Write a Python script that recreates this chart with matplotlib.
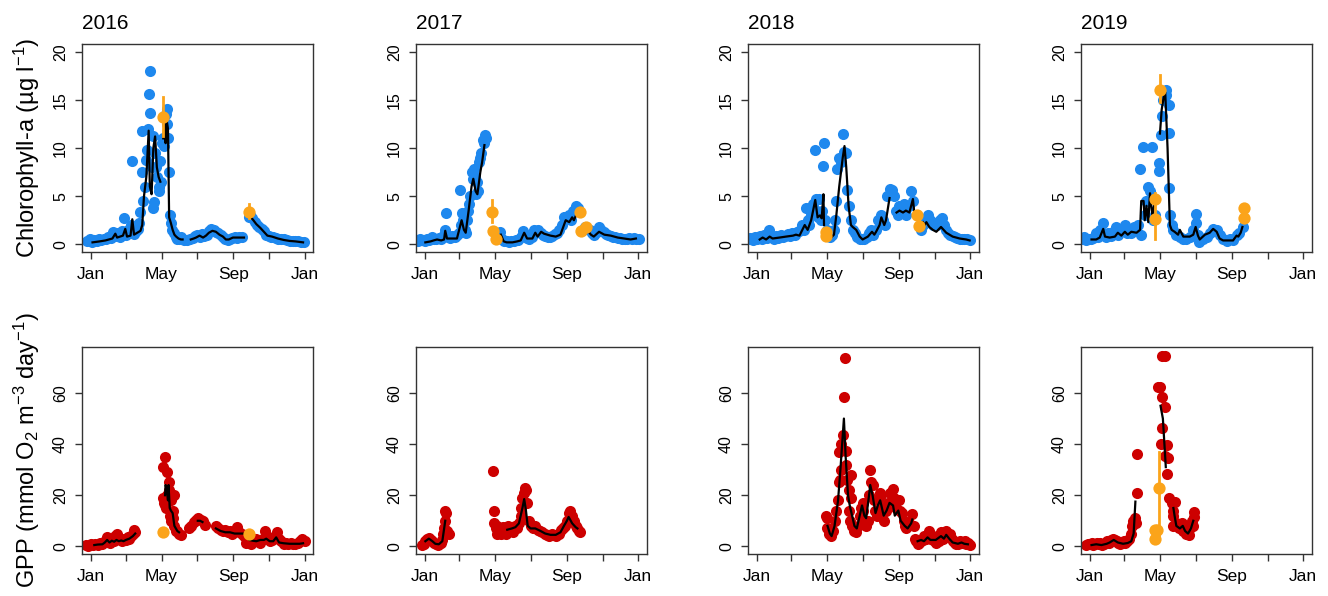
import numpy as np
import pandas as pd
import matplotlib
matplotlib.use("Agg")
import matplotlib.pyplot as plt

plt.rcParams["font.family"] = ["Liberation Sans", "DejaVu Sans"]
plt.rcParams["mathtext.fontset"] = "custom"
plt.rcParams["mathtext.rm"] = "Liberation Sans"
plt.rcParams["mathtext.it"] = "Liberation Sans:italic"
plt.rcParams["mathtext.default"] = "regular"

years = [2016, 2017, 2018, 2019]

# ---- chlorophyll-a: sensor dots (day of year, ug/l) ----
chl_2016 = [(-6,0.3),(-2,0.5),(2,0.2),(6,0.4),(10,0.3),(14,0.5),(18,0.4),(22,0.6),(26,0.5),(30,0.8),
            (34,0.7),(38,1.3),(42,0.9),(46,1.2),(50,0.8),(54,1.4),(57,2.7),(60,1.0),(63,1.5),(66,1.2),
            (69,2.0),(71,8.7),(74,1.1),(77,1.4),(80,1.6),(83,2.2),(85,3.4),(87,7.5),(88,11.8),(90,4.5),
            (92,6.0),(94,8.8),(96,9.8),(98,12.0),(100,15.6),(101,18.0),(102,13.6),(104,8.0),(106,3.8),
            (107,11.2),(108,4.4),(110,9.5),(112,8.0),(114,7.0),(116,6.0),(117,5.5),(119,8.7),(120,6.5),
            (122,10.5),(124,11.0),(126,10.2),(128,13.5),(130,14.1),(131,12.5),(132,11.0),(134,7.5),
            (135,3.0),(137,2.2),(139,1.5),(142,1.2),(145,0.8),(148,0.6),(151,0.5),(155,0.8),(160,0.4),
            (165,0.4),(170,0.5),(174,0.7),(178,0.9),(182,1.0),(186,0.8),(190,1.1),(194,0.9),(198,1.0),
            (202,1.4),(206,1.6),(210,1.5),(214,1.3),(218,1.2),(222,1.0),(226,0.8),(230,0.6),(234,0.4),
            (238,0.6),(242,0.7),(246,0.8),(250,0.7),(254,0.8),(258,0.8),(270,2.8),(273,3.0),(276,2.7),
            (280,2.3),(284,2.0),(288,1.8),(292,1.6),(296,1.4),(300,1.0),(304,0.9),(308,0.8),(312,0.8),
            (316,0.7),(320,0.6),(325,0.5),(330,0.5),(335,0.4),(340,0.3),(345,0.3),(350,0.3),(355,0.3),
            (360,0.2),(365,0.2)]
chl_2017 = [(-12,0.3),(-8,0.5),(-4,0.4),(0,0.3),(4,0.5),(8,0.4),(12,0.8),(16,0.6),(20,0.5),(24,0.7),
            (28,0.6),(32,0.9),(35,1.5),(36,3.3),(39,0.8),(43,0.7),(47,0.9),(51,0.8),(55,1.0),(58,1.2),
            (61,5.6),(62,2.0),(64,3.3),(66,2.5),(68,1.5),(70,1.2),(72,2.5),(74,3.5),(76,4.2),(78,5.0),
            (80,7.5),(82,6.8),(84,7.8),(86,7.0),(88,5.2),(90,6.5),(91,5.5),(93,8.5),(95,9.0),(97,9.5),
            (99,10.8),(101,10.5),(103,11.3),(105,11.0),(127,1.0),(129,1.3),(132,0.5),(136,0.3),
            (140,0.3),(144,0.2),(148,0.3),(152,0.3),(156,0.4),(160,0.4),(164,0.8),(168,1.4),(171,1.0),
            (175,0.7),(179,0.6),(183,0.8),(187,1.5),(190,1.3),(194,1.5),(198,1.2),(202,1.0),(206,0.9),
            (210,0.8),(214,0.8),(218,0.9),(222,1.1),(226,1.2),(230,1.5),(234,2.0),(238,2.8),(242,2.8),
            (246,3.0),(250,2.5),(254,3.5),(258,4.0),(262,3.8),(270,1.5),(274,1.8),(278,1.6),(282,1.5),
            (286,1.2),(290,1.0),(294,1.3),(298,1.8),(302,1.5),(306,1.3),(310,1.1),(314,1.0),(318,0.9),
            (322,0.8),(326,0.8),(330,0.7),(334,0.7),(338,0.6),(342,0.6),(346,0.6),(350,0.7),(354,0.6),
            (358,0.7),(362,0.6),(366,0.5)]
chl_2018 = [(-15,0.5),(-11,0.7),(-7,0.4),(-3,0.8),(1,0.6),(5,0.9),(9,0.5),(13,1.0),(17,0.7),(21,1.5),
            (25,0.8),(29,0.6),(33,0.9),(37,0.7),(41,1.0),(45,0.8),(49,0.9),(53,1.1),(57,0.9),(61,1.2),
            (65,1.0),(69,1.3),(73,1.4),(77,2.0),(80,1.5),(84,3.8),(87,2.5),(90,2.0),(93,3.0),(96,4.2),
            (99,9.8),(101,4.7),(103,3.5),(105,2.8),(107,4.7),(109,2.5),(111,3.5),(113,8.1),(115,10.5),
            (117,2.5),(120,1.5),(123,1.0),(126,0.8),(129,1.0),(132,1.5),(134,2.5),(136,4.5),(138,7.8),
            (141,9.0),(144,8.5),(147,11.5),(150,9.6),(152,9.5),(155,5.6),(158,4.0),(161,2.5),(164,1.5),
            (168,1.2),(172,0.8),(176,0.6),(180,0.5),(184,0.6),(188,0.8),(192,1.2),(196,1.5),(199,1.0),
            (204,1.5),(208,2.5),(212,3.0),(216,2.5),(220,2.0),(223,5.0),(227,5.7),(231,5.6),(235,5.0),
            (238,3.5),(241,3.0),(244,4.0),(248,3.5),(252,4.2),(256,3.0),(260,4.0),(264,5.5),(267,4.5),
            (281,1.5),(285,2.0),(289,2.5),(293,3.0),(297,2.5),(301,2.0),(305,2.2),(309,2.0),(313,2.5),
            (317,2.7),(320,2.0),(323,1.5),(327,1.2),(331,1.0),(335,0.9),(339,0.8),(343,0.7),(347,0.6),
            (351,0.6),(355,0.5),(360,0.5),(364,0.4)]
chl_2019 = [(-14,0.5),(-10,0.8),(-6,0.4),(-2,0.6),(2,0.5),(6,0.7),(10,1.2),(14,0.8),(18,1.5),(22,2.2),
            (25,1.0),(28,0.8),(32,1.2),(36,0.9),(40,1.3),(44,1.8),(48,1.0),(52,1.4),(56,1.6),(60,2.0),
            (63,1.2),(67,1.5),(71,1.2),(75,1.8),(79,1.5),(83,2.0),(86,7.8),(88,1.0),(91,10.1),(94,3.0),
            (97,4.5),(100,6.0),(103,5.5),(107,10.1),(108,2.5),(111,3.0),(118,8.4),(118,7.6),(121,11.3),
            (123,13.3),(125,15.0),(130,16.0),(131,15.5),(135,14.5),(135,11.6),(136,5.8),(137,3.0),
            (140,2.0),(143,1.5),(148,1.0),(154,0.8),(160,0.5),(165,0.5),(171,0.8),(177,1.5),(181,2.2),
            (182,3.1),(185,1.0),(187,0.2),(194,0.5),(200,0.8),(205,1.2),(211,1.6),(217,1.5),(222,1.0),
            (228,0.5),(234,0.3),(239,0.5),(245,0.4),(251,1.0),(256,1.2),(262,1.8)]

# ---- chlorophyll-a: smoothed series, None = break ----
chl_fit_2016 = [(3,0.2),(15,0.3),(25,0.4),(37,0.6),(42,1.1),(45,0.7),(55,0.9),(59,1.6),(62,0.8),(68,0.9),
                (71,2.6),(74,1.0),(85,1.4),(88,2.0),(91,5.0),(95,7.0),(99,11.8),(101,6.0),(104,5.2),
                (107,10.0),(110,11.2),(113,8.0),(116,7.0),(119,6.5),None,(124,11.0),(126,12.5),(128,10.5),
                (130,12.8),(132,12.0),(134,2.8),(137,2.2),(140,1.5),(143,1.0),(146,0.8),(150,0.6),
                (154,0.5),(157,0.5),None,(171,0.5),(176,0.6),(180,0.7),(186,0.9),(192,0.7),(197,0.9),
                (202,1.2),(208,1.4),(214,1.3),(220,1.0),(226,0.8),(231,0.5),(236,0.5),(243,0.7),
                (250,0.7),(258,0.7),(262,0.7),None,(274,2.8),(278,2.5),(283,2.1),(290,1.7),(296,1.3),
                (302,0.9),(310,0.8),(320,0.6),(330,0.45),(340,0.35),(350,0.3),(363,0.2)]
chl_fit_2017 = [(1,0.2),(10,0.3),(15,0.4),(21,0.5),(28,0.4),(33,0.5),(35,1.4),(38,0.6),(55,0.6),(63,2.5),
                (67,1.5),(70,1.2),(75,3.5),(80,6.0),(83,6.8),(87,5.5),(90,5.2),(95,7.5),(98,8.5),
                (102,10.3),None,(130,1.0),(135,0.3),(140,0.2),(150,0.2),(158,0.3),(164,0.4),(170,1.2),
                (175,0.6),(184,0.6),(189,1.2),(193,0.8),(199,1.3),(204,1.1),(215,0.9),(224,0.8),
                (232,1.0),(241,2.5),(247,2.3),(252,2.8),(255,2.5),(260,3.2),None,(278,1.5),(284,1.0),
                (289,0.8),(298,1.3),(307,1.0),(318,0.9),(330,0.7),(341,0.6),(352,0.5),(361,0.6)]
chl_fit_2018 = [(5,0.5),(10,0.7),(16,0.5),(22,0.8),(27,0.6),(39,0.7),(50,0.8),(62,0.9),(67,1.0),(73,0.9),
                (82,2.0),(87,1.5),(93,2.5),(100,4.6),(104,2.8),(108,3.0),(111,2.7),(114,5.2),(115,2.0),
                None,(124,0.5),(132,1.0),(136,3.0),(141,6.0),(147,9.0),(150,10.2),(153,8.0),(157,4.0),
                (161,2.0),(164,1.8),(170,1.5),(176,0.8),(181,0.5),(190,0.8),(197,1.3),(201,1.0),
                (204,1.3),(210,2.0),(213,2.8),(218,2.0),(221,2.5),(227,4.8),None,(239,3.3),(244,3.5),
                (250,3.3),(255,3.5),(261,3.3),(267,4.7),(269,3.5),None,(284,2.3),(287,2.0),(290,2.3),
                (295,1.8),(301,1.5),(307,1.3),(315,1.8),(324,1.2),(335,0.8),(347,0.6),(358,0.5),(364,0.4)]
chl_fit_2019 = [(3,0.5),(11,0.5),(17,0.7),(23,1.6),(26,0.8),(34,0.7),(43,0.8),(48,1.2),(54,0.9),(60,1.3),
                (65,1.0),(71,1.3),(80,1.2),(86,1.5),(88,4.5),(92,4.5),(94,2.5),(97,4.0),(100,2.3),
                (103,5.3),(107,3.0),(110,4.0),None,(120,11.5),(123,14.0),(127,15.5),(129,15.8),
                (133,10.0),(137,2.0),(140,1.5),(145,1.3),(151,1.0),(154,1.5),(160,0.8),(171,0.8),
                (177,1.0),(181,1.8),(185,0.9),(188,0.5),(197,1.0),(205,1.2),(211,1.6),(217,1.3),
                (222,0.6),(228,0.4),(239,0.4),(245,0.4),(251,0.9),(254,0.8),(258,1.2),(261,1.8)]

# ---- chlorophyll-a: lab samples (day, value, lower, upper) ----
chl_lab_2016 = [(123,13.2,11.2,15.3),(270,3.4,2.7,4.2)]
chl_lab_2017 = [(115,3.4,2.3,4.6),(116,1.4,None,None),(122,0.5,None,None),
                (266,3.4,None,None),(267,1.4,None,None),(275,1.8,None,None)]
chl_lab_2018 = [(118,1.3,None,None),(119,0.9,None,None),(274,3.0,None,None),(277,1.9,None,None)]
chl_lab_2019 = [(112,2.6,0.5,5.3),(112,4.7,None,None),(120,16.0,14.8,17.6),
                (264,3.8,None,None),(264,2.7,None,None)]

# ---- GPP: daily estimates (day, mmol O2 m-3 day-1) ----
gpp_2016 = [(-8,0.5),(-4,0.3),(0,0.8),(4,0.5),(8,1.0),(12,0.6),(16,1.2),(20,0.8),(24,2.0),(27,3.5),
            (30,2.5),(33,1.5),(36,3.0),(39,2.0),(42,4.0),(45,5.0),(48,3.0),(51,2.5),(54,2.0),(57,3.0),
            (60,2.5),(63,3.5),(66,3.0),(69,4.0),(72,5.0),(74,6.5),(76,5.5),(123,31.2),(124,19.0),
            (125,17.0),(127,35.0),(127,16.0),(128,15.0),(130,20.0),(131,29.0),(133,25.0),(134,22.0),
            (135,12.0),(137,10.0),(138,18.0),(140,14.0),(141,11.0),(142,20.0),(143,8.0),(146,6.0),
            (148,6.0),(151,5.0),(154,4.5),(168,7.0),(172,8.0),(176,9.5),(180,10.5),(184,11.0),
            (188,10.5),(192,10.0),(196,8.5),(214,8.0),(218,7.0),(222,6.5),(226,6.0),(230,6.5),
            (234,5.5),(238,6.0),(242,5.0),(246,6.0),(250,7.5),(254,5.5),(258,5.0),(262,4.0),
            (266,1.5),(270,2.5),(274,1.0),(278,2.5),(282,3.0),(286,2.0),(290,1.5),(294,3.0),(298,6.0),
            (302,4.0),(306,2.0),(310,2.5),(314,3.5),(318,5.5),(322,3.0),(326,2.0),(330,1.0),(334,1.5),
            (338,1.0),(342,1.5),(346,1.0),(350,0.8),(354,1.5),(358,2.0),(362,2.8),(366,2.2)]
gpp_2017 = [(-5,0.5),(-2,1.0),(1,2.0),(4,3.0),(7,3.2),(10,2.5),(13,2.0),(16,1.5),(19,1.0),(22,0.5),
            (25,1.0),(28,1.5),(30,2.5),(32,5.0),(33,7.0),(35,10.0),(35,14.0),(37,13.0),(38,6.0),(41,5.0),
            (117,29.5),(118,14.0),(119,9.0),(121,7.0),(123,5.0),(124,8.0),(127,6.0),(130,5.0),
            (133,7.5),(136,6.0),(139,5.0),(142,8.0),(145,6.0),(148,7.0),(151,5.5),(154,8.0),(157,7.0),
            (161,9.0),(164,12.0),(165,15.0),(167,19.0),(169,21.0),(171,23.0),(173,22.0),(175,17.0),
            (178,10.0),(181,8.0),(185,7.0),(189,8.0),(193,6.5),(197,6.0),(201,5.5),(205,5.0),
            (209,4.5),(213,4.0),(217,5.0),(221,4.5),(225,4.0),(229,5.0),(233,6.5),(237,7.0),(240,8.0),
            (243,10.0),(246,13.0),(249,14.0),(252,12.0),(255,10.0),(258,8.0),(261,7.0),(264,6.0),
            (266,5.5)]
gpp_2018 = [(119,12.0),(120,11.0),(120,7.0),(124,5.0),(127,4.0),(130,6.0),(133,10.0),(136,14.0),
            (139,18.0),(141,25.0),(143,26.0),(144,30.0),(141,37.0),(144,40.0),(147,43.5),(150,58.5),
            (151,73.8),(152,37.5),(153,32.0),(155,26.0),(157,22.0),(158,14.0),(160,10.0),(161,19.0),
            (161,28.0),(163,8.0),(167,6.0),(170,5.5),(173,8.0),(176,12.0),(179,15.0),(181,17.0),
            (182,14.0),(184,10.0),(187,8.0),(190,10.0),(192,20.0),(194,30.0),(196,25.0),(198,24.0),
            (200,18.0),(203,14.0),(205,12.0),(207,18.0),(210,21.0),(213,20.0),(214,15.0),(218,10.0),
            (221,14.0),(224,17.0),(227,21.0),(233,22.5),(235,19.0),(238,15.0),(243,18.0),(245,14.0),
            (249,13.0),(252,10.0),(254,8.0),(256,7.0),(261,9.0),(266,12.5),(268,8.0),(270,3.0),
            (272,2.0),(275,1.0),(278,1.5),(281,2.0),(284,2.5),(286,4.0),(290,3.0),(294,6.0),(298,3.0),
            (302,2.5),(304,2.0),(307,1.5),(309,4.0),(312,2.0),(315,5.5),(318,3.0),(320,4.0),(324,6.0),
            (327,4.0),(330,5.0),(333,3.0),(336,2.0),(339,1.5),(341,1.0),(344,1.0),(347,2.0),(350,1.5),
            (353,1.5),(356,2.0),(358,1.0),(361,1.5),(364,0.5)]
gpp_2019 = [(-6,0.5),(-3,1.0),(0,0.8),(3,1.2),(6,0.5),(9,1.0),(12,1.5),(15,0.8),(18,1.2),(21,0.5),
            (24,1.0),(27,1.5),(30,2.0),(33,1.5),(36,2.5),(40,3.0),(43,2.5),(46,2.0),(49,1.5),(52,1.0),
            (55,1.5),(58,2.0),(61,1.5),(64,2.0),(67,3.0),(70,5.0),(72,8.0),(74,10.0),(77,11.0),(79,9.0),
            (80,21.0),(81,36.0),(117,62.5),(120,62.5),(123,74.5),(128,74.5),(123,58.5),(128,54.5),
            (124,46.5),(121,40.0),(132,39.5),(128,35.5),(134,34.5),(132,28.5),(136,19.0),(140,17.0),
            (146,17.5),(143,14.0),(142,12.0),(143,8.0),(148,9.0),(157,9.0),(153,7.0),(160,6.0),
            (165,5.0),(170,4.5),(171,7.0),(174,10.0),(178,13.5),(178,11.5),(177,8.0)]

gpp_fit_2016 = [(6,0.5),(12,0.7),(20,0.8),(24,1.5),(28,2.5),(32,1.5),(36,2.2),(40,1.8),(44,2.5),(48,2.0),
                (52,2.3),(56,2.0),(60,2.5),(66,3.0),(72,4.0),(76,5.0),None,(127,20.0),(128,24.0),
                (130,22.0),(132,18.0),(133,24.0),(135,15.0),(137,14.0),(140,13.0),(143,8.0),(148,6.0),
                (151,5.5),None,(183,10.0),(187,10.0),(191,9.5),None,(214,7.0),(222,6.0),(230,5.5),
                (238,5.5),(246,5.0),(254,5.0),(260,5.0),None,(271,2.5),(277,2.2),(283,2.0),(290,2.5),
                (296,2.5),(300,3.0),(306,2.0),(312,2.0),(317,3.5),(322,1.5),(330,1.2),(340,1.0),
                (350,1.0),(357,1.0),(363,1.2)]
gpp_fit_2017 = [(1,2.0),(7,3.0),(13,2.0),(18,1.0),(24,0.8),(30,2.0),(35,10.0),None,(141,6.5),(149,7.0),
                (155,7.5),(161,9.0),(167,15.0),(170,18.5),(173,14.0),(176,8.0),(181,7.0),(189,7.0),
                (198,6.0),(206,5.0),(215,4.5),(224,4.5),(232,5.5),(238,8.0),(243,10.0),(246,11.5),
                (252,9.0),(258,7.5),(261,7.0)]
gpp_fit_2018 = [(121,8.0),(125,5.0),(128,4.0),(133,8.0),(139,18.0),(143,30.0),(149,50.0),(152,35.0),
                (156,20.0),(159,16.0),(161,14.0),(167,8.0),(171,7.0),(176,12.0),(180,16.0),(184,12.0),
                (187,11.0),(192,20.0),(194,24.0),(198,20.0),(203,13.0),(207,16.0),(211,18.0),(217,12.0),
                (222,14.0),(227,17.0),(233,16.0),(236,12.0),(242,14.0),(246,10.0),(253,8.0),(258,7.0),
                (264,9.0),(266,10.5),None,(275,2.0),(281,2.5),(286,2.0),(292,3.5),(297,2.5),(306,2.5),
                (315,4.0),(320,3.0),(324,4.5),(329,3.0),(335,1.5),(344,1.0),(350,1.5),(355,1.0),
                (361,0.8)]
gpp_fit_2019 = [(3,0.5),(11,0.8),(20,0.5),(29,1.0),(34,1.5),(41,2.5),(48,1.5),(57,1.0),(65,1.3),(71,2.0),
                (75,5.0),(78,17.5),None,(121,55.0),(125,50.0),(130,31.0),None,(143,15.0),(145,12.0),
                (148,8.0),(154,7.0),(159,8.0),(163,6.0),(168,5.0),(173,7.0),(177,10.0)]

gpp_lab_2016 = [(123,5.5,None,None),(270,4.7,None,None)]
gpp_lab_2017 = []
gpp_lab_2018 = []
gpp_lab_2019 = [(119,22.8,3.0,37.0),(111,3.0,None,None),(112,6.5,None,None),(115,6.3,None,None)]

chl_dots = [chl_2016, chl_2017, chl_2018, chl_2019]
chl_fits = [chl_fit_2016, chl_fit_2017, chl_fit_2018, chl_fit_2019]
chl_labs = [chl_lab_2016, chl_lab_2017, chl_lab_2018, chl_lab_2019]
gpp_dots = [gpp_2016, gpp_2017, gpp_2018, gpp_2019]
gpp_fits = [gpp_fit_2016, gpp_fit_2017, gpp_fit_2018, gpp_fit_2019]
gpp_labs = [gpp_lab_2016, gpp_lab_2017, gpp_lab_2018, gpp_lab_2019]

BLUE = "#1E88EE"
RED = "#CD0000"
ORANGE = "#FBA41A"
FRAME = "#333333"


def split(pairs):
    x = [np.nan if p is None else p[0] for p in pairs]
    y = [np.nan if p is None else p[1] for p in pairs]
    return x, y


def draw(ax, dots, fit, lab, color, year):
    dx, dy = split(dots)
    ax.scatter(dx, dy, s=64, color=color, linewidths=0, zorder=2)
    fx, fy = split(fit)
    ax.plot(fx, fy, color="black", lw=1.6, zorder=3)
    for d, v, lo, hi in lab:
        if lo is not None:
            ax.plot([d, d], [lo, hi], color=ORANGE, lw=2.0, zorder=4)
        ax.scatter([d], [v], s=78, color=ORANGE, linewidths=0, zorder=5)

    # month ticks every two months, labels as base R keeps them
    starts = [pd.Timestamp(year, m, 1).dayofyear - 1 for m in (1, 3, 5, 7, 9, 11)]
    starts.append(pd.Timestamp(year, 12, 31).dayofyear)
    ax.set_xticks(starts)
    ax.set_xticklabels(["Jan", "", "May", "", "Sep", "", "Jan"])
    ax.set_xlim(-15, 380)
    for sp in ax.spines.values():
        sp.set_color(FRAME)
        sp.set_linewidth(1.0)
    ax.tick_params(direction="out", length=5, width=1.0, color=FRAME, pad=5)
    ax.tick_params(axis="x", labelsize=12.5, pad=6)
    ax.tick_params(axis="y", labelsize=11.5, labelrotation=90)


fig = plt.figure(figsize=(13.28, 5.96), dpi=100)
lefts = [82, 416, 748, 1081]
W, H = 1328, 596

for i, yr in enumerate(years):
    ax = fig.add_axes([lefts[i] / W, 1 - 252 / H, 231 / W, 208 / H])
    draw(ax, chl_dots[i], chl_fits[i], chl_labs[i], BLUE, yr)
    ax.set_ylim(-0.8, 20.8)
    ax.set_yticks([0, 5, 10, 15, 20])
    for t in ax.get_yticklabels():
        t.set_va("center")
    ax.set_title(str(yr), loc="left", fontsize=15, pad=11)
    if i == 0:
        ax.set_ylabel("Chlorophyll-a (µg l$^{-1}$)", fontsize=17, labelpad=8)

    bx = fig.add_axes([lefts[i] / W, 1 - 554 / H, 231 / W, 207 / H])
    draw(bx, gpp_dots[i], gpp_fits[i], gpp_labs[i], RED, yr)
    bx.set_ylim(-3, 78)
    bx.set_yticks([0, 20, 40, 60])
    for t in bx.get_yticklabels():
        t.set_va("center")
    if i == 0:
        bx.set_ylabel("GPP (mmol O$_2$ m$^{-3}$ day$^{-1}$)", fontsize=17, labelpad=8)

fig.savefig("out.png", dpi=100)
